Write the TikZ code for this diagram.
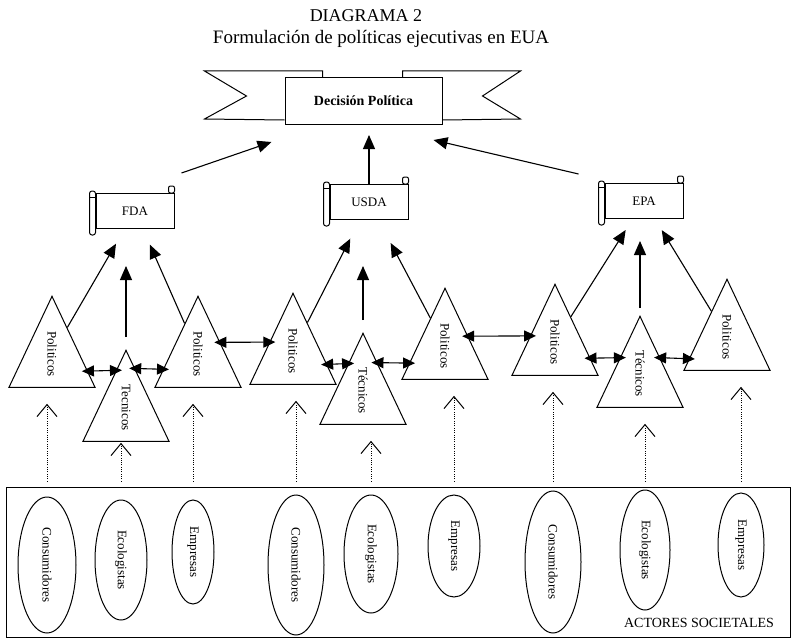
\documentclass[tikz,border=0pt]{standalone}
\usepackage{fontspec}
\setmainfont{Liberation Serif}
\usetikzlibrary{arrows.meta,shapes.geometric,calc}

\begin{document}
\begin{tikzpicture}[x=1pt,y=-1pt,
    flecha/.style={-{Triangle[length=14pt,width=12pt]}, line width=1.1pt},
    doble/.style={{Triangle[length=12pt,width=11pt]}-{Triangle[length=12pt,width=11pt]}, line width=1.1pt, shorten <=-6pt, shorten >=-6pt},
    punteada/.style={-{Straight Barb[length=12pt,width=20pt,line width=1pt]}, line width=0.9pt, dash pattern=on 1pt off 1.3pt, shorten <=5pt, shorten >=16pt},
    tri/.style={draw, line width=1pt, isosceles triangle, isosceles triangle stretches, shape border rotate=90, minimum width=86pt, minimum height=91pt, inner sep=0pt, anchor=apex, font=\fontsize{13}{13}\selectfont},
    actor/.style={draw, ellipse, line width=1pt, rotate=-90, inner sep=0pt, font=\fontsize{13}{13}\selectfont},
    pergamino/.style={draw, fill=white, line width=1pt, minimum width=78pt, minimum height=35pt, font=\fontsize{13}{13}\selectfont}]

        \useasboundingbox (0,0) rectangle (793,642);

        % Draw title
        \node[anchor=base, font=\fontsize{18}{18}\selectfont] (titulo) at (366,22) {DIAGRAMA 2};
        \node[anchor=base, font=\fontsize{19}{19}\selectfont] (subtitulo) at (381,44) {Formulación de políticas ejecutivas en EUA};

        % Draw banner with the decision
        \node[draw, line width=1pt, minimum width=157pt, minimum height=47pt, font=\bfseries\fontsize{14}{14}\selectfont] (decision) at (363.5,101) {Decisión Política};
        \draw[line width=1pt] ([xshift=38pt]decision.north west) -- ++(0pt,6pt) -- ++(-118pt,0pt) -- ++(42pt,-25pt) -- ++(-42pt,-23pt) -- ([yshift=5pt]decision.south west);
        \draw[line width=1pt] ([xshift=-40pt]decision.north east) -- ++(0pt,6pt) -- ++(118pt,0pt) -- ++(-38pt,-25pt) -- ++(38pt,-23pt) -- ([yshift=5pt]decision.south east);

        % Draw the agencies as scrolls
        \node[pergamino] (fda) at (135,211) {FDA};
        \node[pergamino] (usda) at (369,202) {USDA};
        \node[pergamino] (epa) at (644,201) {EPA};

        \draw[line width=1pt, fill=white, rounded corners=2.5pt] ([shift={(-6pt,2pt)}]fda.north west) rectangle ([yshift=-6pt]fda.south west);
        \draw[line width=0.7pt] ([shift={(-6pt,-4pt)}]fda.north west) -- ([yshift=-4pt]fda.north west);
        \draw[line width=1pt, fill=white, rounded corners=2pt] ([xshift=-6pt]fda.north east) rectangle ([yshift=7pt]fda.north east);

        \draw[line width=1pt, fill=white, rounded corners=2.5pt] ([shift={(-6pt,2pt)}]usda.north west) rectangle ([yshift=-6pt]usda.south west);
        \draw[line width=0.7pt] ([shift={(-6pt,-4pt)}]usda.north west) -- ([yshift=-4pt]usda.north west);
        \draw[line width=1pt, fill=white, rounded corners=2pt] ([xshift=-6pt]usda.north east) rectangle ([yshift=7pt]usda.north east);

        \draw[line width=1pt, fill=white, rounded corners=2.5pt] ([shift={(-6pt,2pt)}]epa.north west) rectangle ([yshift=-6pt]epa.south west);
        \draw[line width=0.7pt] ([shift={(-6pt,-4pt)}]epa.north west) -- ([yshift=-4pt]epa.north west);
        \draw[line width=1pt, fill=white, rounded corners=2pt] ([xshift=-6pt]epa.north east) rectangle ([yshift=7pt]epa.north east);

        % Draw the triangles
        \node[tri] (pol1) at (52,295) {\rotatebox{-90}{Politicos}};
        \node[tri] (tec1) at (126,349) {\rotatebox{-90}{Tecnicos}};
        \node[tri] (pol2) at (198,295) {\rotatebox{-90}{Politicos}};
        \node[tri] (pol3) at (293,292) {\rotatebox{-90}{Politicos}};
        \node[tri] (tec2) at (363,332) {\rotatebox{-90}{Técnicos}};
        \node[tri] (pol4) at (445,287) {\rotatebox{-90}{Politicos}};
        \node[tri] (pol5) at (555,283) {\rotatebox{-90}{Politicos}};
        \node[tri] (tec3) at (640,315) {\rotatebox{-90}{Técnicos}};
        \node[tri] (pol6) at (727,278) {\rotatebox{-90}{Politicos}};

        % Arrows up to the agencies
        \draw[flecha, shorten >=17pt] (pol1) -- (fda);
        \draw[flecha, shorten <=12pt, shorten >=37pt] (tec1.apex) -- (tec1.apex |- fda.south);
        \draw[flecha, shorten >=17pt] (pol2) -- (fda);

        \draw[flecha, shorten >=21pt] (pol3) -- (usda);
        \draw[flecha, shorten <=12pt, shorten >=46pt] (tec2.apex) -- (tec2.apex |- usda.south);
        \draw[flecha, shorten >=26pt] (pol4) -- (usda);

        \draw[flecha, shorten >=13pt] (pol5) -- (epa);
        \draw[flecha, shorten <=7pt, shorten >=22pt] (tec3.apex) -- (tec3.apex |- epa.south);
        \draw[flecha, shorten >=13pt] (pol6) -- (epa);

        % Arrows up to the decision
        \draw[flecha] ([shift={(7pt,20pt)}]fda.north east) -- ([shift={(-13pt,-17pt)}]decision.south west);
        \draw[flecha, shorten >=10pt] (usda.north) -- (usda.north |- decision.south);
        \draw[flecha] ([shift={(-26pt,9pt)}]epa.north west) -- ([shift={(-9pt,-15pt)}]decision.south east);

        % Double arrows between the triangles
        \draw[doble] ($(pol1.apex)!.82!(pol1.right corner)$) -- ($(tec1.apex)!.23!(tec1.left corner)$);
        \draw[doble] ($(tec1.apex)!.21!(tec1.right corner)$) -- ($(pol2.apex)!.80!(pol2.left corner)$);
        \draw[doble] ($(pol2.apex)!.51!(pol2.right corner)$) -- ($(pol3.apex)!.54!(pol3.left corner)$);
        \draw[doble] ($(pol3.apex)!.78!(pol3.right corner)$) -- ($(tec2.apex)!.34!(tec2.left corner)$);
        \draw[doble] ($(tec2.apex)!.33!(tec2.right corner)$) -- ($(pol4.apex)!.82!(pol4.left corner)$);
        \draw[doble] ($(pol4.apex)!.53!(pol4.right corner)$) -- ($(pol5.apex)!.57!(pol5.left corner)$);
        \draw[doble] ($(pol5.apex)!.81!(pol5.right corner)$) -- ($(tec3.apex)!.46!(tec3.left corner)$);
        \draw[doble] ($(tec3.apex)!.46!(tec3.right corner)$) -- ($(pol6.apex)!.87!(pol6.left corner)$);

        % Draw the box of societal actors
        \node[draw, line width=1pt, minimum width=784pt, minimum height=150pt, inner sep=0pt] (actores) at (398,562) {};
        \node[anchor=base east, font=\fontsize{14}{14}\selectfont] (etiqueta) at ([shift={(-13pt,10pt)}]actores.south east) {ACTORES SOCIETALES};

        \node[actor, minimum width=136pt, minimum height=58pt] (con1) at (47,565) {Consumidores};
        \node[actor, minimum width=120pt, minimum height=52pt] (eco1) at (121,560) {Ecologistas};
        \node[actor, minimum width=104pt, minimum height=42pt] (emp1) at (193,552) {Empresas};
        \node[actor, minimum width=140pt, minimum height=56pt] (con2) at (296,565) {Consumidores};
        \node[actor, minimum width=118pt, minimum height=54pt] (eco2) at (371,554) {Ecologistas};
        \node[actor, minimum width=102pt, minimum height=52pt] (emp2) at (454,546) {Empresas};
        \node[actor, minimum width=142pt, minimum height=56pt] (con3) at (553,562) {Consumidores};
        \node[actor, minimum width=120pt, minimum height=50pt] (eco3) at (645,550) {Ecologistas};
        \node[actor, minimum width=104pt, minimum height=46pt] (emp3) at (741,545) {Empresas};

        % Dotted arrows from the actors to the triangles
        \draw[punteada] (con1 |- actores.north) -- (con1 |- pol1.lower side);
        \draw[punteada, shorten >=1pt] (eco1 |- actores.north) -- (eco1 |- tec1.lower side);
        \draw[punteada] (emp1 |- actores.north) -- (emp1 |- pol2.lower side);
        \draw[punteada] (con2 |- actores.north) -- (con2 |- pol3.lower side);
        \draw[punteada] (eco2 |- actores.north) -- (eco2 |- tec2.lower side);
        \draw[punteada] (emp2 |- actores.north) -- (emp2 |- pol4.lower side);
        \draw[punteada] (con3 |- actores.north) -- (con3 |- pol5.lower side);
        \draw[punteada] (eco3 |- actores.north) -- (eco3 |- tec3.lower side);
        \draw[punteada] (emp3 |- actores.north) -- (emp3 |- pol6.lower side);
    \end{tikzpicture}
\end{document}
